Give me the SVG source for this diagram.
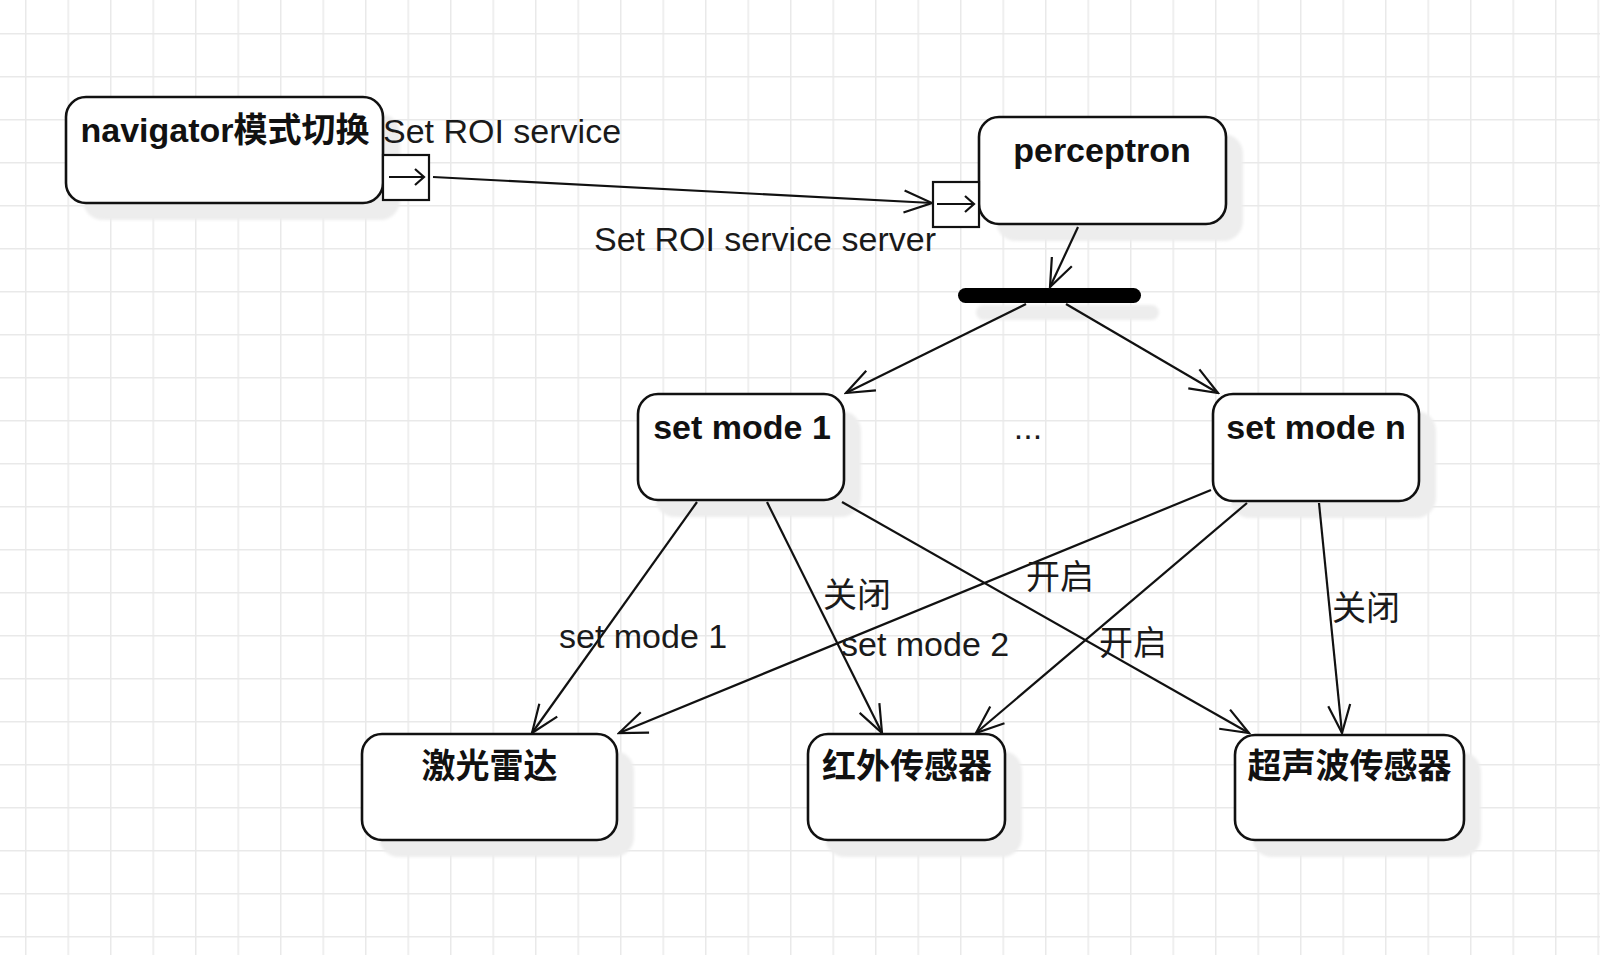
<svg xmlns="http://www.w3.org/2000/svg" width="1600" height="955" viewBox="0 0 1600 955">
<defs>
<style>
.box{fill:#fff;stroke:#111;stroke-width:2.6}
.shadow{fill:#ededed;stroke:none;filter:url(#blur)}
.title{font-family:"Liberation Sans","Noto Sans CJK SC",sans-serif;font-size:34px;font-weight:bold;fill:#111;text-anchor:middle}
.lbl{font-family:"Liberation Sans","Noto Sans CJK SC",sans-serif;font-size:34px;fill:#1a1a1a}
.edge{fill:none;stroke:#111;stroke-width:2.2;marker-end:url(#arr)}
.port{fill:#fff;stroke:#111;stroke-width:2.2}
.picon{fill:none;stroke:#111;stroke-width:2.2}
</style>
<pattern id="grid" patternUnits="userSpaceOnUse" x="25" y="33" width="42.5" height="43">
<path d="M0.75,0 V43 M0,0.75 H42.5" stroke="#e9e9e9" stroke-width="1.5" fill="none"/>
</pattern>
<filter id="blur" x="-10%" y="-10%" width="120%" height="130%"><feGaussianBlur stdDeviation="1.5"/></filter>
<marker id="arr" markerUnits="userSpaceOnUse" viewBox="-32 -15 34 30" markerWidth="34" markerHeight="30" refX="0" refY="0" orient="auto">
<path d="M-28,-11 L0,0 L-28,11" fill="none" stroke="#111" stroke-width="2.2"/>
</marker>
</defs>
<rect width="1600" height="955" fill="#fff"/>
<rect width="1600" height="955" fill="url(#grid)"/>

<g id="navigator">
<rect class="shadow" x="83" y="114" width="317" height="106" rx="20"/>
<rect class="box" x="66" y="97" width="317" height="106" rx="20"/>
<text class="title" x="225" y="142">navigator模式切换</text>
</g>
<g id="port-out">
<rect class="port" x="383" y="155" width="46" height="45"/>
<path class="picon" d="M389,177 H424 M415,169 L424,177 L415,185"/>
</g>

<g id="perceptron">
<rect class="shadow" x="996" y="134" width="247" height="107" rx="20"/>
<rect class="box" x="979" y="117" width="247" height="107" rx="20"/>
<text class="title" x="1102" y="162">perceptron</text>
</g>
<g id="port-in">
<rect class="port" x="933" y="182" width="46" height="45"/>
<path class="picon" d="M937,204 H974 M965,196 L974,204 L965,212"/>
</g>

<g id="fork">
<rect x="976" y="305" width="183" height="15" rx="7.5" fill="#ededed" filter="url(#blur)"/>
<rect x="958" y="288" width="183" height="15" rx="7.5" fill="#000"/>
</g>

<g id="setmode1">
<rect class="shadow" x="655" y="411" width="206" height="106" rx="20"/>
<rect class="box" x="638" y="394" width="206" height="106" rx="20"/>
<text class="title" x="742" y="439">set mode 1</text>
</g>

<g id="ellipsis">
<text class="lbl" x="1028" y="439" text-anchor="middle">...</text>
</g>

<g id="setmoden">
<rect class="shadow" x="1230" y="411" width="206" height="107" rx="20"/>
<rect class="box" x="1213" y="394" width="206" height="107" rx="20"/>
<text class="title" x="1316" y="439">set mode n</text>
</g>

<g id="lidar">
<rect class="shadow" x="379" y="751" width="255" height="106" rx="20"/>
<rect class="box" x="362" y="734" width="255" height="106" rx="20"/>
<text class="title" x="489.5" y="778">激光雷达</text>
</g>

<g id="infrared">
<rect class="shadow" x="825" y="751" width="197" height="106" rx="20"/>
<rect class="box" x="808" y="734" width="197" height="106" rx="20"/>
<text class="title" x="907" y="778">红外传感器</text>
</g>

<g id="ultrasonic">
<rect class="shadow" x="1252" y="752" width="229" height="105" rx="20"/>
<rect class="box" x="1235" y="735" width="229" height="105" rx="20"/>
<text class="title" x="1349.5" y="778">超声波传感器</text>
</g>

<g id="connectors">
<line class="edge" x1="433" y1="177" x2="932" y2="203"/>
<line class="edge" x1="1078" y1="227" x2="1050" y2="287"/>
<line class="edge" x1="1026" y1="304" x2="846" y2="393"/>
<line class="edge" x1="1066" y1="304" x2="1218" y2="393"/>
<line class="edge" x1="697" y1="502" x2="532" y2="733"/>
<line class="edge" x1="767" y1="502" x2="882" y2="733"/>
<line class="edge" x1="842" y1="502" x2="1249" y2="733"/>
<line class="edge" x1="1211" y1="490" x2="619" y2="733"/>
<line class="edge" x1="1247" y1="503" x2="976" y2="733"/>
<line class="edge" x1="1319" y1="503" x2="1342" y2="733"/>
<text class="lbl" x="383" y="143">Set ROI service</text>
<text class="lbl" x="594" y="251">Set ROI service server</text>
<text class="lbl" x="559" y="648">set mode 1</text>
<text class="lbl" x="841" y="656">set mode 2</text>
<text class="lbl" x="823" y="607">关闭</text>
<text class="lbl" x="1026" y="589">开启</text>
<text class="lbl" x="1099" y="655">开启</text>
<text class="lbl" x="1332" y="620">关闭</text>
</g>
</svg>
